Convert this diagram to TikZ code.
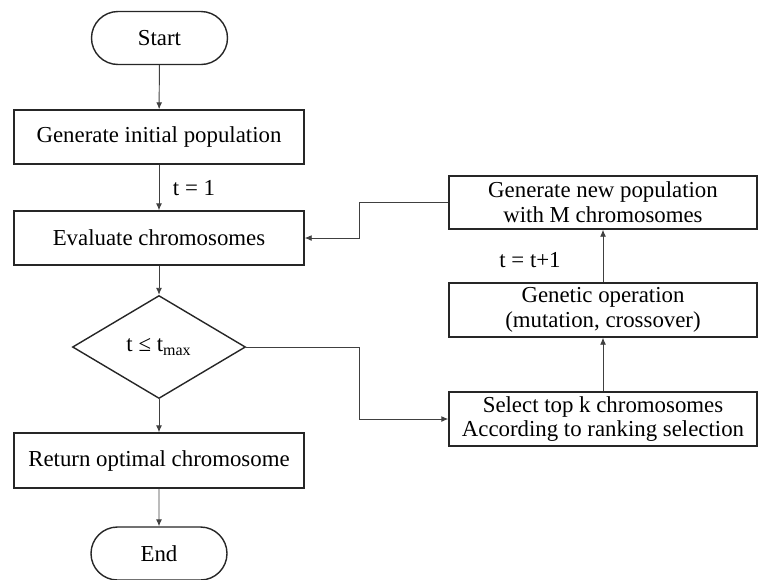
\documentclass[tikz,border=0pt]{standalone}
\usepackage{fontspec}
\setmainfont{Liberation Serif}
\usepackage{tikz}
\usetikzlibrary{shapes.misc,shapes.geometric,shadows,arrows.meta}

\begin{document}
\begin{tikzpicture}[x=0.02cm,y=-0.02cm,line width=0.55pt,
        font=\fontsize{13}{14.2}\selectfont,
        box/.style={rectangle,draw=black!85,line width=0.8pt,fill=white,align=center,inner sep=0pt,
            drop shadow={shadow xshift=0.7pt,shadow yshift=-0.7pt,fill=black!25}},
        term/.style={rounded rectangle,draw=black!85,line width=0.8pt,fill=white,
            minimum width=136*0.02cm,minimum height=53*0.02cm,inner sep=0pt},
        link/.style={draw=black!75,-{Latex[length=4pt,width=3.4pt]}}]
            \useasboundingbox (0,0) rectangle (759,579);
            \node (start) at (159.5,38) [term] {Start};
            \node (init) at (159,137) [box,minimum width=290*0.02cm,minimum height=54*0.02cm] {Generate initial population};
            \node (eval) at (159,238) [box,minimum width=290*0.02cm,minimum height=54*0.02cm] {Evaluate chromosomes};
            \node (cond) at (159,347) [diamond,draw=black!85,line width=0.8pt,inner sep=0pt,
                minimum width=173*0.02cm,minimum height=103*0.02cm] {t ≤ t\textsubscript{max}};
            \node (ret) at (159,460.5) [box,minimum width=290*0.02cm,minimum height=55*0.02cm] {Return optimal chromosome};
            \node (end) at (159,553.5) [term] {End};
            \node (newpop) at (603,202.5) [box,minimum width=308*0.02cm,minimum height=53*0.02cm] {Generate new population\\with M chromosomes};
            \node (genop) at (603,310) [box,minimum width=308*0.02cm,minimum height=54*0.02cm] {Genetic operation\\(mutation, crossover)};
            \node (sel) at (603,419) [box,minimum width=308*0.02cm,minimum height=54*0.02cm] {Select top k chromosomes\\According to ranking selection};
            \coordinate (bendA) at (359,347);
            \coordinate (bendB) at (359,202.5);
            \draw [link] (start) -- (init);
            \draw [link] (init) -- (eval);
            \node (tone) at (194,188) {t = 1};
            \draw [link] (eval) -- (cond);
            \draw [link] (cond) -- (ret);
            \draw [link] (ret) -- (end);
            \draw [link] (cond.east) -- (bendA) |- (sel.west);
            \draw [link] (sel) -- (genop);
            \draw [link] (genop) -- (newpop);
            \node (tnext) at (530,260) {t = t+1};
            \draw [link] (newpop.west) -- (bendB) |- (eval.east);
        \end{tikzpicture}
\end{document}
